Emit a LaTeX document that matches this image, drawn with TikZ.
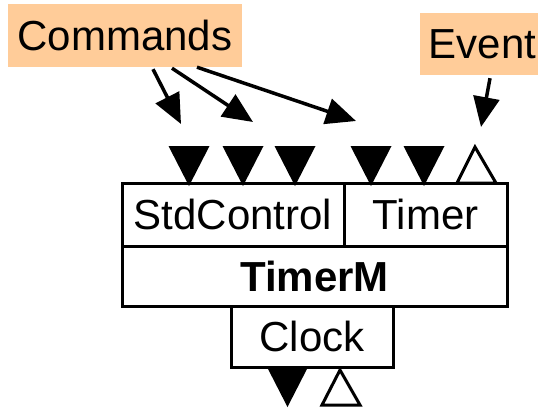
\documentclass[tikz,border=0pt]{standalone}
\usepackage{fontspec}
\setmainfont{Liberation Sans}
\usetikzlibrary{arrows.meta,calc}
\definecolor{peach}{HTML}{FFCC99}
\newcommand\PortDownAt[2]{\fill (#1-20.5,#2) -- (#1+20.5,#2) -- (#1,#2+40) -- cycle;}
\begin{document}
\begin{tikzpicture}[x=1pt,y=-1pt,
  box/.style={draw,line width=3pt,inner sep=0pt,font=\fontsize{42}{42}\selectfont},
  tag/.style={fill=peach,inner sep=0pt,font=\fontsize{42}{42}\selectfont},
  conn/.style={line width=3.5pt,-{Triangle[length=30pt,width=26pt]}},
  openport/.style={draw,fill=white,line width=3pt,line join=miter}]
\useasboundingbox (0,0) rectangle (538,408);
% labels
\node[tag,minimum width=234pt,minimum height=63pt] (cmd) at (125,35.5) {Commands};
\node[tag,minimum width=125pt,minimum height=62pt] (evt) at (482.5,44) {Event};
% component boxes
\node[box,minimum width=222pt,minimum height=63pt] (std) at (233,214.5) {StdControl};
\node[box,minimum width=163pt,minimum height=63pt] (tmr) at (425.5,214.5) {Timer};
\node[box,minimum width=385pt,minimum height=60pt,font=\fontsize{42}{42}\selectfont\bfseries] (tm) at (314.5,276) {TimerM};
\node[box,minimum width=162pt,minimum height=61pt] (clk) at (312,336.5) {Clock};
% ports on top
\PortDownAt{189}{146}
\PortDownAt{243}{146}
\PortDownAt{295}{146}
\PortDownAt{371}{146}
\PortDownAt{424}{146}
\path[openport] (457,183) -- (475,147) -- (496,183) -- cycle;
% ports at bottom
\PortDownAt{287.5}{367}
\path[openport] (322,405) -- (340,370) -- (360,405) -- cycle;
% arrow ends
\coordinate (t1) at (181,124);
\coordinate (t2) at (253,122);
\coordinate (t3) at (356,121);
\coordinate (t4) at (481,127);
\draw[conn] ($(cmd.south)+(28,2)$) -- (t1);
\draw[conn] ($(cmd.south)+(47,1)$) -- (t2);
\draw[conn] ($(cmd.south)+(72,0)$) -- (t3);
\draw[conn] ($(evt.south)+(7.5,3)$) -- (t4);
\end{tikzpicture}
\end{document}
